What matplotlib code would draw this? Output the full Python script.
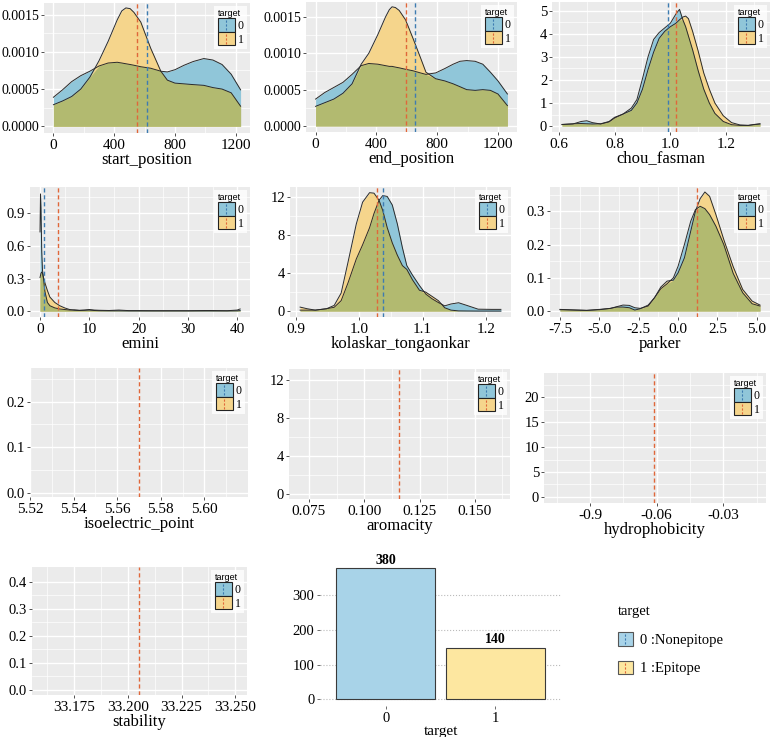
import matplotlib.pyplot as plt
import numpy as np
from matplotlib.legend_handler import HandlerBase
from matplotlib.patches import Rectangle
from matplotlib.lines import Line2D

# ---- values ----
start_x = [0, 60, 120, 180, 240, 300, 360, 420, 450, 477, 505, 530, 575, 640, 707,
           750, 800, 860, 920, 990, 1050, 1110, 1170, 1232]
start_0 = [0.00039, 0.00049, 0.00060, 0.00068, 0.00074, 0.00081, 0.00085, 0.00086,
           0.00085, 0.00084, 0.00083, 0.00082, 0.00080, 0.00078, 0.00074, 0.00073,
           0.00076, 0.00082, 0.00087, 0.00091, 0.00089, 0.00083, 0.00070, 0.00049]
start_1 = [0.00029, 0.00034, 0.00040, 0.00050, 0.00066, 0.00088, 0.00114, 0.00143,
           0.00155, 0.00159, 0.00158, 0.00153, 0.00140, 0.00105, 0.00074, 0.00062,
           0.00058, 0.00057, 0.00056, 0.00055, 0.00052, 0.00050, 0.00045, 0.00027]
start_means = [614, 550]

end_x = [0, 60, 120, 180, 240, 300, 350, 410, 460, 485, 503, 525, 550, 592, 640,
         690, 726, 790, 850, 905, 950, 994, 1050, 1100, 1150, 1200, 1262]
end_0 = [0.00037, 0.00046, 0.00053, 0.00060, 0.00071, 0.00083, 0.00086, 0.00085,
         0.00083, 0.00082, 0.00082, 0.00081, 0.00080, 0.00078, 0.00076, 0.00073,
         0.00071, 0.00073, 0.00079, 0.00085, 0.00089, 0.00090, 0.00089, 0.00085,
         0.00074, 0.00062, 0.00044]
end_1 = [0.00027, 0.00032, 0.00037, 0.00045, 0.00058, 0.00085, 0.00100, 0.00126,
         0.00150, 0.00160, 0.00164, 0.00163, 0.00159, 0.00146, 0.00121, 0.00094,
         0.00074, 0.00065, 0.00062, 0.00058, 0.00054, 0.00050, 0.00049, 0.00050,
         0.00049, 0.00044, 0.00028]
end_means = [652, 592]

chou_x = [0.611, 0.65, 0.68, 0.70, 0.72, 0.75, 0.78, 0.80, 0.83, 0.86, 0.88, 0.90,
          0.92, 0.94, 0.96, 0.98, 1.00, 1.02, 1.033, 1.045, 1.055, 1.065, 1.08, 1.10,
          1.12, 1.14, 1.16, 1.19, 1.22, 1.25, 1.28, 1.30, 1.322]
chou_0 = [0.07, 0.09, 0.20, 0.23, 0.15, 0.09, 0.18, 0.35, 0.52, 0.78, 1.15, 2.05,
          3.0, 3.75, 4.05, 4.25, 4.45, 4.85, 5.05, 4.6, 4.3, 3.9, 3.3, 2.4, 1.6, 1.0,
          0.55, 0.2, 0.06, 0.03, 0.03, 0.07, 0.10]
chou_1 = [0.07, 0.10, 0.11, 0.10, 0.09, 0.10, 0.20, 0.38, 0.52, 0.68, 1.0, 1.6,
          2.45, 3.2, 3.8, 4.1, 4.3, 4.45, 4.6, 4.72, 4.76, 4.65, 4.1, 3.25, 2.3, 1.6,
          1.0, 0.45, 0.15, 0.05, 0.03, 0.06, 0.09]
chou_means = [0.993, 1.019]

emini_x = [0, 0.1, 0.2, 0.35, 0.5, 0.7, 1.0, 1.5, 2, 3, 4, 5, 6, 7, 8, 9, 10, 11,
           12, 14, 16, 18, 20, 23, 26, 30, 34, 38, 40, 40.6]
emini_0 = [0.73, 1.08, 0.95, 0.55, 0.38, 0.30, 0.18, 0.08, 0.05, 0.03, 0.02, 0.015,
           0.01, 0.012, 0.008, 0.01, 0.015, 0.01, 0.008, 0.006, 0.01, 0.005, 0.005,
           0.004, 0.004, 0.004, 0.006, 0.004, 0.01, 0.02]
emini_1 = [0.31, 0.33, 0.35, 0.36, 0.35, 0.31, 0.26, 0.19, 0.13, 0.08, 0.05, 0.03,
           0.015, 0.008, 0.006, 0.008, 0.01, 0.006, 0.004, 0.003, 0.003, 0.002, 0.002,
           0.002, 0.002, 0.002, 0.002, 0.002, 0.003, 0.005]
emini_means = [0.9, 3.7]

kolas_x = [0.906, 0.917, 0.93, 0.948, 0.96, 0.971, 0.982, 0.995, 1.005, 1.016, 1.023,
           1.031, 1.037, 1.044, 1.052, 1.06, 1.068, 1.075, 1.084, 1.095, 1.105, 1.115,
           1.125, 1.135, 1.145, 1.157, 1.17, 1.188, 1.209, 1.224]
kolas_0 = [0.1, 0.1, 0.1, 0.25, 0.4, 1.1, 3.0, 5.5, 7.0, 8.8, 10.3, 11.7, 12.2, 12.1,
           11.2, 9.2, 6.7, 4.8, 3.8, 2.7, 1.8, 1.3, 0.9, 0.55, 0.75, 0.88, 0.6, 0.2,
           0.18, 0.18]
kolas_1 = [0.42, 0.25, 0.1, 0.25, 0.6, 1.9, 5.2, 9.2, 11.5, 12.5, 12.45, 11.7, 10.6,
           8.8, 7.2, 5.9, 4.8, 4.4, 3.3, 2.2, 2.0, 1.55, 1.1, 0.35, 0.1, 0.02, 0.01,
           0.0, 0.0, 0.0]
kolas_means = [1.038, 1.028]

parker_x = [-7.5, -6.5, -5.8, -5.0, -4.3, -3.9, -3.5, -3.1, -2.75, -2.4, -1.9, -1.5,
            -1.1, -0.7, -0.3, 0.0, 0.4, 0.8, 1.1, 1.4, 1.7, 2.0, 2.4, 2.9, 3.5, 4.1,
            4.7, 5.2]
parker_0 = [0.005, 0.003, 0.002, 0.005, 0.008, 0.013, 0.018, 0.017, 0.01, 0.008,
            0.015, 0.04, 0.067, 0.082, 0.1, 0.135, 0.2, 0.27, 0.305, 0.315, 0.308,
            0.29, 0.255, 0.2, 0.113, 0.055, 0.022, 0.015]
parker_1 = [0.004, 0.003, 0.002, 0.004, 0.008, 0.012, 0.012, 0.01, 0.003, 0.007,
            0.018, 0.04, 0.072, 0.09, 0.093, 0.115, 0.16, 0.24, 0.3, 0.338, 0.358,
            0.345, 0.29, 0.215, 0.133, 0.065, 0.03, 0.018]
parker_means = [1.2, 1.2]

isoelectric_means = [5.5701, 5.5701]
aromacity_means = [0.1158, 0.1158]
hydrophobicity_means = [-0.0611, -0.0611]
stability_means = [33.2054, 33.2054]

target_levels = ['0', '1']
target_counts = [378, 148]
count_labels = ['380', '140']
target_names = ['0 :Nonepitope', '1 :Epitope']

BLUE = '#90C6D9'
ORANGE = '#F5D58C'
GREEN = '#B2BA70'
BLUE_DASH = '#3E7CB1'
ORANGE_DASH = '#E0673A'
BAR_BLUE = '#A8D3E8'
BAR_YELLOW = '#FDE7A0'

plt.rcParams['font.family'] = 'Liberation Serif'
W, H = 776, 737


def box(l, t, r, b):
    return [l / W, 1 - b / H, (r - l) / W, (b - t) / H]


class Key:
    def __init__(self, fill, dash, edge):
        self.fill = fill
        self.dash = dash
        self.edge = edge


class KeyHandler(HandlerBase):
    def create_artists(self, legend, orig, xd, yd, width, height, fontsize, trans):
        r = Rectangle((-xd, -yd), width, height, facecolor=orig.fill,
                      edgecolor=orig.edge, lw=0.8, transform=trans)
        ln = Line2D([-xd + width / 2] * 2, [-yd + 1, -yd + height - 1],
                    color=orig.dash, lw=0.8, ls=(0, (2, 1.5)), transform=trans)
        return [r, ln]


def small_legend(ax):
    keys = [Key(BLUE, BLUE_DASH, '#222222'), Key(ORANGE, ORANGE_DASH, '#222222')]
    leg = ax.legend(keys, target_levels, handler_map={Key: KeyHandler()},
                    loc='upper right', borderaxespad=0.25, borderpad=0.3,
                    labelspacing=0, handlelength=1.4, handleheight=1.35,
                    handletextpad=0.25, frameon=True, fancybox=False,
                    title='target', prop={'size': 8.5},
                    title_fontproperties={'family': 'Liberation Sans', 'size': 6.5})
    leg.get_frame().set_edgecolor('white')
    leg.get_frame().set_linewidth(0)
    leg._legend_box.align = 'left'


def style(ax, xlim, ylim, xt, xtl, yt, ytl, xminor, yminor, xlabel):
    ax.set_facecolor('#EBEBEB')
    ax.set_xlim(xlim)
    ax.set_ylim(ylim)
    ax.set_xticks(xt)
    ax.set_xticklabels(xtl)
    ax.set_yticks(yt)
    ax.set_yticklabels(ytl)
    ax.set_xticks(xminor, minor=True)
    ax.set_yticks(yminor, minor=True)
    ax.grid(which='major', color='white', lw=1.0)
    ax.grid(which='minor', color='white', lw=0.5)
    ax.set_axisbelow(True)
    ax.tick_params(which='minor', length=0)
    ax.tick_params(which='major', length=2.5, width=0.6, color='#333333')
    ax.tick_params(axis='x', labelsize=11, pad=1.5)
    ax.tick_params(axis='y', labelsize=10.5, pad=1)
    for s in ax.spines.values():
        s.set_visible(False)
    ax.set_xlabel(xlabel, fontsize=12, labelpad=0)
    small_legend(ax)


def density(ax, x, d0, d1, means):
    x = np.asarray(x, float)
    d0 = np.asarray(d0, float)
    d1 = np.asarray(d1, float)
    ax.fill_between(x, 0, d0, color=BLUE, lw=0, zorder=2)
    ax.fill_between(x, 0, d1, color=ORANGE, lw=0, zorder=2)
    ax.fill_between(x, 0, np.minimum(d0, d1), color=GREEN, lw=0, zorder=2)
    ax.plot(x, d0, color='#2a2a2a', lw=0.7, zorder=3)
    ax.plot(x, d1, color='#2a2a2a', lw=0.7, zorder=3)
    mean_lines(ax, means)


def mean_lines(ax, means):
    if means[0] != means[1]:
        ln = ax.axvline(means[0], color=BLUE_DASH, lw=1.0, ls=(0, (3, 2)), zorder=4)
        ln.set_snap(True)
    ln = ax.axvline(means[1], color=ORANGE_DASH, lw=1.0, ls=(0, (3, 2)), zorder=4)
    ln.set_snap(True)


fig = plt.figure(figsize=(W / 100, H / 100), dpi=100)

# row 1
ax = fig.add_axes(box(44, 3, 250, 133))
density(ax, start_x, start_0, start_1, start_means)
style(ax, (-62, 1294), (-0.00009, 0.001656), [0, 400, 800, 1200], ['0', '400', '800', '1200'],
      [0, 0.0005, 0.001, 0.0015], ['0.0000', '0.0005', '0.0010', '0.0015'],
      [200, 600, 1000], [0.00025, 0.00075, 0.00125], 'start_position')
ax.tick_params(axis='y', labelsize=10)

ax = fig.add_axes(box(306, 2, 517, 132))
density(ax, end_x, end_0, end_1, end_means)
style(ax, (-63, 1325), (-0.000083, 0.001706), [0, 400, 800, 1200], ['0', '400', '800', '1200'],
      [0, 0.0005, 0.001, 0.0015], ['0.0000', '0.0005', '0.0010', '0.0015'],
      [200, 600, 1000], [0.00025, 0.00075, 0.00125], 'end_position')
ax.tick_params(axis='y', labelsize=10)

ax = fig.add_axes(box(552, 2, 770, 132))
density(ax, chou_x, chou_0, chou_1, chou_means)
style(ax, (0.575, 1.358), (-0.256, 5.37), [0.6, 0.8, 1.0, 1.2], ['0.6', '0.8', '1.0', '1.2'],
      [0, 1, 2, 3, 4, 5], ['0', '1', '2', '3', '4', '5'],
      [0.7, 0.9, 1.1, 1.3], [0.5, 1.5, 2.5, 3.5, 4.5], 'chou_fasman')

# row 2
ax = fig.add_axes(box(30, 187, 250, 317))
density(ax, emini_x, emini_0, emini_1, emini_means)
style(ax, (-2.03, 42.6), (-0.054, 1.144), [0, 10, 20, 30, 40], ['0', '10', '20', '30', '40'],
      [0, 0.3, 0.6, 0.9], ['0.0', '0.3', '0.6', '0.9'],
      [5, 15, 25, 35], [0.15, 0.45, 0.75, 1.05], 'emini')

ax = fig.add_axes(box(290, 187, 511, 317))
density(ax, kolas_x, kolas_0, kolas_1, kolas_means)
style(ax, (0.890, 1.240), (-0.625, 13.1), [0.9, 1.0, 1.1, 1.2], ['0.9', '1.0', '1.1', '1.2'],
      [0, 4, 8, 12], ['0', '4', '8', '12'],
      [0.95, 1.05, 1.15], [2, 6, 10], 'kolaskar_tongaonkar')

ax = fig.add_axes(box(550, 187, 770, 317))
density(ax, parker_x, parker_0, parker_1, parker_means)
style(ax, (-8.135, 5.835), (-0.0179, 0.373), [-7.5, -5.0, -2.5, 0.0, 2.5, 5.0],
      ['-7.5', '-5.0', '-2.5', '0.0', '2.5', '5.0'],
      [0, 0.1, 0.2, 0.3], ['0.0', '0.1', '0.2', '0.3'],
      [-6.25, -3.75, -1.25, 1.25, 3.75], [0.05, 0.15, 0.25, 0.35], 'parker')

# row 3 (no density drawn, only the means)
ax = fig.add_axes(box(30, 368, 248, 497))
mean_lines(ax, isoelectric_means)
style(ax, (5.5199, 5.6201), (-0.0088, 0.2733), [5.52, 5.54, 5.56, 5.58, 5.60],
      ['5.52', '5.54', '5.56', '5.58', '5.60'],
      [0, 0.1, 0.2], ['0.0', '0.1', '0.2'],
      [5.53, 5.55, 5.57, 5.59, 5.61], [0.05, 0.15, 0.25], 'isoelectric_point')

ax = fig.add_axes(box(289, 369, 510, 499))
mean_lines(ax, aromacity_means)
style(ax, (0.0660, 0.1659), (-0.53, 13.2), [0.075, 0.100, 0.125, 0.150],
      ['0.075', '0.100', '0.125', '0.150'],
      [0, 4, 8, 12], ['0', '4', '8', '12'],
      [0.0875, 0.1125, 0.1375, 0.1625], [2, 6, 10], 'aromacity')

ax = fig.add_axes(box(544, 373, 766, 503))
mean_lines(ax, hydrophobicity_means)
style(ax, (-0.1107, -0.0108), (-1.21, 24.83), [-0.09, -0.06, -0.03], ['-0.9', '-0.06', '-0.03'],
      [0, 5, 10, 15, 20], ['0', '5', '10', '15', '20'],
      [-0.105, -0.075, -0.045, -0.015], [2.5, 7.5, 12.5, 17.5, 22.5], 'hydrophobicity')

# row 4
ax = fig.add_axes(box(32, 567, 247, 695))
mean_lines(ax, stability_means)
style(ax, (33.1555, 33.2554), (-0.0185, 0.4554), [33.175, 33.200, 33.225, 33.250],
      ['33.175', '33.200', '33.225', '33.250'],
      [0, 0.1, 0.2, 0.3, 0.4], ['0.0', '0.1', '0.2', '0.3', '0.4'],
      [33.1625, 33.1875, 33.2125, 33.2375], [0.05, 0.15, 0.25, 0.35], 'stability')

# bar chart of target counts
ax = fig.add_axes(box(320, 561, 561, 706))
pos = [0, 1]
ax.bar(pos, target_counts, width=0.9, color=[BAR_BLUE, BAR_YELLOW],
       edgecolor='#3a3a3a', lw=0.8, zorder=3)
for p, c, t in zip(pos, target_counts, count_labels):
    ax.text(p, c + 5, t, ha='center', va='bottom', fontsize=10, fontweight='bold')
ax.set_xlim(-0.6, 1.6)
ax.set_ylim(-19, 399)
ax.set_xticks(pos)
ax.set_xticklabels(target_levels)
ax.set_yticks([0, 100, 200, 300])
ax.yaxis.grid(True, ls=':', color='#bbbbbb', lw=0.8)
ax.set_axisbelow(True)
for s in ax.spines.values():
    s.set_visible(False)
ax.tick_params(length=2.5, width=0.6, color='#555555', labelsize=10.5, pad=1.5)
ax.set_xlabel('target', fontsize=11, labelpad=0)

keys = [Key(BAR_BLUE, BLUE_DASH, '#555555'), Key(BAR_YELLOW, ORANGE_DASH, '#555555')]
leg = fig.legend(keys, target_names, handler_map={Key: KeyHandler()},
                 loc='upper left', bbox_to_anchor=(605 / W, 1 - 592 / H),
                 frameon=False, title='target', prop={'size': 10.5},
                 title_fontproperties={'size': 10.5}, handlelength=1.0,
                 handleheight=1.05, labelspacing=0.95, handletextpad=0.5)
leg._legend_box.align = 'left'

fig.savefig('out.png', dpi=100)
